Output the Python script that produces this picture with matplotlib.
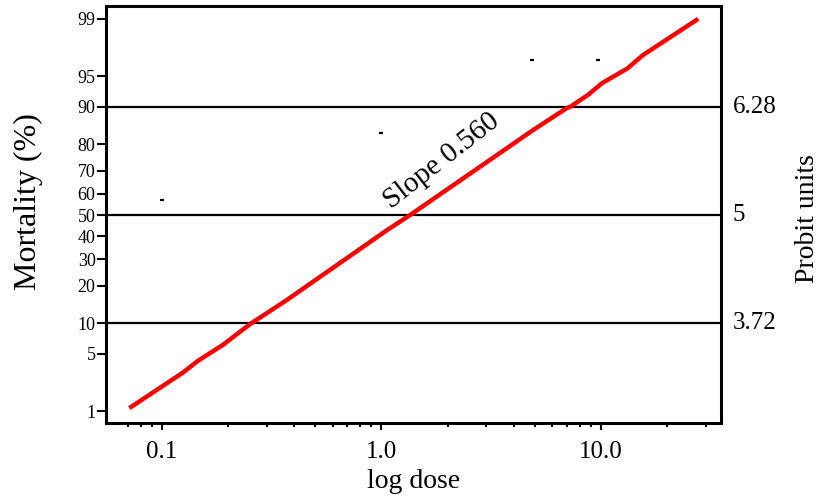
from statistics import NormalDist
import numpy as np
import matplotlib
matplotlib.use('Agg')
from matplotlib import pyplot as plt
from matplotlib.ticker import FixedLocator, NullFormatter

plt.rcParams['font.family'] = ['Liberation Serif', 'DejaVu Serif']

# fitted probit line (dose, mortality %)
line_dose = [0.071, 0.125, 0.146, 0.190, 0.211, 0.252, 0.371, 1.06, 1.35,
             4.90, 7.0, 7.22, 8.73, 10.1, 13.2, 15.5, 27.7]
line_mort = [1.1, 3.1, 4.2, 6.2, 7.4, 9.8, 15.7, 42.9, 50.0,
             84.3, 89.8, 90.0, 92.3, 94.1, 95.9, 97.1, 99.0]

# observed points
obs_dose = [0.1, 1.0, 4.85, 9.7]
obs_mort = [57, 83.5, 96.7, 96.7]

left_ticks = [1, 5, 10, 20, 30, 40, 50, 60, 70, 80, 90, 95, 99]
ref_levels = [10, 50, 90]
ref_labels = ['3.72', '5', '6.28']
x_major = [0.1, 1.0, 10.0]
x_labels = ['0.1', '1.0', '10.0']
x_minor = [0.07, 0.08, 0.09, 0.2, 0.3, 0.4, 0.5, 0.6, 0.7, 0.8, 0.9,
           2, 3, 4, 5, 6, 7, 8, 9, 20, 30]

nd = NormalDist()


def probit(p):
    return [nd.inv_cdf(v / 100.0) + 5 for v in p]


fig = plt.figure(figsize=(8.21, 4.99), dpi=100)
ax = fig.add_axes([0.1291, 0.1523, 0.7491, 0.8357])

for lvl in probit(ref_levels):
    ax.axhline(lvl, color='black', lw=1.6, zorder=1)

ax.plot(line_dose, probit(line_mort), color='#ff0000', lw=3.2, zorder=3,
        solid_capstyle='butt')
ax.plot(obs_dose, probit(obs_mort), ls='none', marker='_', color='black',
        ms=3, mew=1.6, zorder=4)

ax.set_xscale('log')
ax.set_xlim(0.0556, 35.2)
ax.set_ylim(2.533, 7.479)

ax.xaxis.set_major_locator(FixedLocator(x_major))
ax.set_xticklabels(x_labels, fontsize=18)
ax.xaxis.set_minor_locator(FixedLocator(x_minor))
ax.xaxis.set_minor_formatter(NullFormatter())
ax.tick_params(axis='x', which='major', direction='out', length=5, width=1.5, pad=8)
ax.tick_params(axis='x', which='minor', direction='out', length=3, width=1.5)

ax.set_yticks(probit(left_ticks))
ax.set_yticklabels([str(t) for t in left_ticks], fontsize=13)
ax.yaxis.set_minor_locator(FixedLocator([]))
ax.tick_params(axis='y', direction='out', length=6.5, width=1.5, pad=1)

for sp in ax.spines.values():
    sp.set_linewidth(2.2)

for lvl, lab in zip(probit(ref_levels), ref_labels):
    ax.text(1.019, lvl, lab, transform=ax.get_yaxis_transform(),
            ha='left', va='center', fontsize=18)

ax.set_xlabel('log dose', fontsize=20, labelpad=4)
ax.set_ylabel('Mortality (%)', fontsize=23)
ax.yaxis.set_label_coords(-0.103, 0.53)
fig.text(0.983, 0.49 * 0.8357 + 0.1523, 'Probit units', rotation=90,
         ha='center', va='center', fontsize=20)

ax.text(1.88, 5.64, 'Slope 0.560', rotation=38, rotation_mode='anchor',
        ha='center', va='center', fontsize=21)

fig.savefig('out.png', dpi=100)
